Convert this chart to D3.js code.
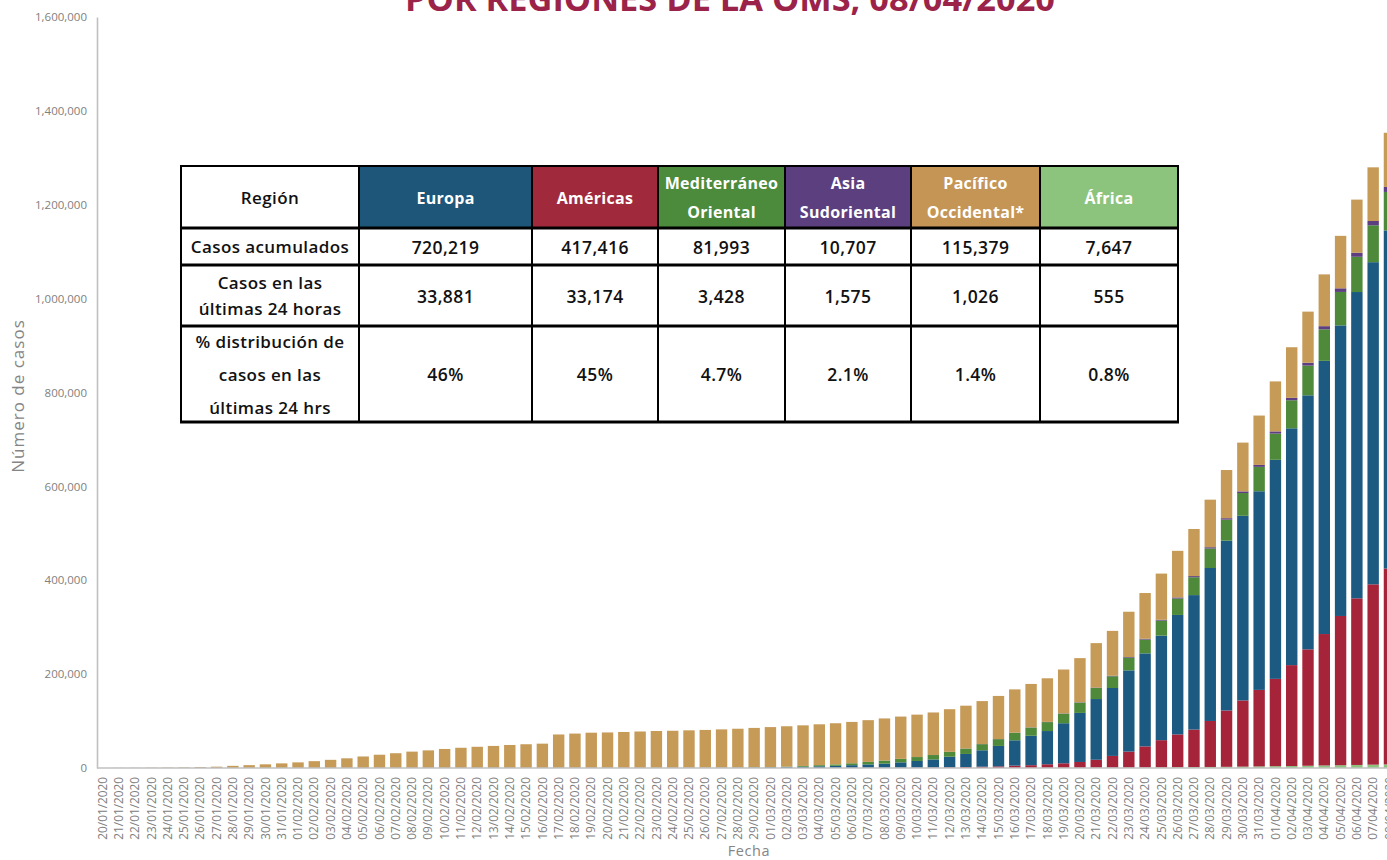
<!DOCTYPE html>
<html><head><meta charset="utf-8">
<script src="https://cdn.jsdelivr.net/npm/d3@7"></script>
<style>body{margin:0;background:#fff;} svg{display:block;}</style>
</head><body>
<svg id="chart" width="1387" height="860"></svg>
<script>
// ---------- DATA ----------
const fechas = [
 "20/01/2020","21/01/2020","22/01/2020","23/01/2020","24/01/2020","25/01/2020","26/01/2020","27/01/2020","28/01/2020","29/01/2020",
 "30/01/2020","31/01/2020","01/02/2020","02/02/2020","03/02/2020","04/02/2020","05/02/2020","06/02/2020","07/02/2020","08/02/2020",
 "09/02/2020","10/02/2020","11/02/2020","12/02/2020","13/02/2020","14/02/2020","15/02/2020","16/02/2020","17/02/2020","18/02/2020",
 "19/02/2020","20/02/2020","21/02/2020","22/02/2020","23/02/2020","24/02/2020","25/02/2020","26/02/2020","27/02/2020","28/02/2020",
 "29/02/2020","01/03/2020","02/03/2020","03/03/2020","04/03/2020","05/03/2020","06/03/2020","07/03/2020","08/03/2020","09/03/2020",
 "10/03/2020","11/03/2020","12/03/2020","13/03/2020","14/03/2020","15/03/2020","16/03/2020","17/03/2020","18/03/2020","19/03/2020",
 "20/03/2020","21/03/2020","22/03/2020","23/03/2020","24/03/2020","25/03/2020","26/03/2020","27/03/2020","28/03/2020","29/03/2020",
 "30/03/2020","31/03/2020","01/04/2020","02/04/2020","03/04/2020","04/04/2020","05/04/2020","06/04/2020","07/04/2020","08/04/2020"
];
const africa = [
 0,0,0,0,0,0,0,0,0,0,
 0,0,0,0,0,0,0,0,0,0,
 0,0,0,0,0,0,0,0,0,0,
 0,0,0,0,0,0,0,1,1,2,
 2,2,2,3,5,8,12,20,25,30,
 35,45,60,75,90,110,150,200,260,340,
 460,600,760,900,1100,1300,1600,1900,2200,2500,
 2900,3400,3900,4200,4800,5400,5900,6500,7092,7647
];
const americas = [
 0,0,0,1,1,2,3,5,6,6,
 8,9,10,11,15,15,16,16,17,19,
 19,19,20,20,22,22,22,22,22,23,
 23,23,23,24,51,51,53,57,60,65,
 70,80,95,110,140,180,250,350,450,600,
 750,1000,1400,2000,2700,3400,4900,5800,7700,9700,
 12400,17000,25000,34000,45000,58000,70000,80000,98000,120000,
 141000,163000,186000,215000,248000,280000,318000,355000,384242,417416
];
const europa = [
 0,0,0,0,0,3,3,3,4,5,
 10,10,22,23,28,28,28,30,30,31,
 38,40,41,45,45,46,46,46,46,47,
 47,47,47,50,79,124,263,381,487,704,
 951,1273,1896,2557,3485,4461,5745,7262,8811,11438,
 14187,17224,22520,27863,34974,43507,53991,62691,70787,85339,
 104513,129323,144682,173130,198107,222679,254484,286464,325878,361735,
 393424,423190,466726,504550,541203,582035,619058,652556,686338,720219
];
const mediterraneo = [
 0,0,0,0,0,0,0,0,0,0,
 0,4,4,5,5,5,5,5,5,7,
 7,7,8,8,8,8,9,9,9,10,
 10,11,18,30,43,80,150,204,280,400,
 550,740,1010,1650,2400,3000,4000,5300,6500,7400,
 8300,9300,10300,11500,13000,14400,16000,17500,19000,20500,
 22000,23500,25000,27000,29500,32000,35000,38000,41500,45000,
 48500,52000,55800,59700,63300,67200,71300,75100,78565,81993
];
const asiaSudoriental = [
 0,2,2,4,5,5,6,8,14,15,
 16,17,21,22,23,27,28,29,30,35,
 35,37,37,37,38,38,38,38,38,38,
 38,38,38,38,38,38,38,38,38,39,
 40,42,45,50,60,75,85,95,100,110,
 130,150,180,220,270,300,370,420,480,560,
 700,850,1100,1400,1650,1900,2300,2500,2800,3000,
 3500,4100,4700,5200,6000,6700,7700,8600,9132,10707
];
const pacifico = [
 0,280,312,576,840,1310,2002,2782,4569,6039,
 7784,9786,11896,14496,17320,20555,24477,28196,31399,34794,
 37459,40451,42997,45061,46884,48939,50465,51742,71314,73214,
 75086,75629,76643,77652,78600,79038,79735,80428,81428,82442,
 83790,85000,85900,86500,87000,87600,88100,88900,89700,90000,
 90300,90600,90800,91100,91500,91800,92100,92500,92900,93400,
 94000,94800,95600,96500,97400,98300,99300,100300,101300,102600,
 103900,105200,106500,107800,109000,110300,111800,113200,114353,115379
];
const yTicks = [0,200000,400000,600000,800000,1000000,1200000,1400000,1600000];

// table
const regionesTabla = [["Europa"],["Américas"],["Mediterráneo","Oriental"],["Asia","Sudoriental"],["Pacífico","Occidental*"],["África"]];
const casosAcumulados = ["720,219","417,416","81,993","10,707","115,379","7,647"];
const casos24h = ["33,881","33,174","3,428","1,575","1,026","555"];
const distribucion = ["46%","45%","4.7%","2.1%","1.4%","0.8%"];
const etiquetasFilas = [["Región"],["Casos acumulados"],["Casos en las","últimas 24 horas"],["% distribución de","casos en las","últimas 24 hrs"]];

// ---------- STYLE ----------
const keys = ["africa","americas","europa","mediterraneo","asia","pacifico"];
const colores = {africa:"#8cc47e", americas:"#a6243a", europa:"#1c5a82", mediterraneo:"#4e8a3a", asia:"#5d3e80", pacifico:"#c69a57"};
const headerColores = ["#1d5679","#a02a3c","#4c8a3c","#5c3f7f","#c59555","#8cc47e"];
const FONT = "'Open Sans', 'Noto Sans', sans-serif";

const svg = d3.select("#chart");
const rows = fechas.map((f,i)=>({fecha:f, africa:africa[i], americas:americas[i], europa:europa[i],
  mediterraneo:mediterraneo[i], asia:asiaSudoriental[i], pacifico:pacifico[i]}));

const axisX = 97, yBase = 768, yTop = 17;
const step = 16.29, bandStart = 94.4;
const x = d3.scaleBand().domain(fechas).range([bandStart, bandStart + 80*step]).paddingInner(0.3).paddingOuter(0.15);
const y = d3.scaleLinear().domain([0,1600000]).range([yBase, yTop]);

const stack = d3.stack().keys(keys)(rows);

// bars
svg.append("g").selectAll("g").data(stack).join("g")
  .attr("fill", d => colores[d.key])
  .selectAll("rect").data(d => d).join("rect")
  .attr("x", d => x(d.data.fecha))
  .attr("width", x.bandwidth())
  .attr("y", d => y(d[1]))
  .attr("height", d => Math.max(0, y(d[0]) - y(d[1])));

// y axis
const gy = svg.append("g").attr("transform", `translate(${axisX},0)`)
  .call(d3.axisLeft(y).tickValues(yTicks).tickFormat(d3.format(",")).tickSize(0).tickPadding(10));
gy.select(".domain").attr("stroke","#c0c0c0").attr("stroke-width",1.6);
gy.selectAll("text").attr("fill","#808080").style("font-family",FONT).style("font-size","11.5px");

// x axis
const gx = svg.append("g").attr("transform", `translate(0,${yBase})`)
  .call(d3.axisBottom(x).tickSize(0).tickSizeOuter(0));
gx.select(".domain").attr("stroke","#c0c0c0").attr("stroke-width",1.6)
  .attr("d", `M${axisX},0H${1387}`);
gx.selectAll("text")
  .attr("transform","rotate(-90)")
  .attr("x",-9).attr("y",0).attr("dy","0.35em")
  .style("text-anchor","end")
  .attr("fill","#808080").style("font-family",FONT).style("font-size","11.8px");

// axis titles
svg.append("text").attr("transform","translate(24,396) rotate(-90)")
  .attr("text-anchor","middle").attr("fill","#858585")
  .style("font-family",FONT).style("font-size","17px").attr("letter-spacing","1px")
  .text("Número de casos");
svg.append("text").attr("x",749).attr("y",856)
  .attr("text-anchor","middle").attr("fill","#858585")
  .style("font-family",FONT).style("font-size","14.5px").attr("letter-spacing","0.6px")
  .text("Fecha");

// title (cut at top, as in the source)
svg.append("text").attr("x",730).attr("y",11)
  .attr("text-anchor","middle").attr("fill","#9b2349")
  .style("font-family",FONT).style("font-weight","700").style("font-size","34px")
  .attr("textLength",650).attr("lengthAdjust","spacingAndGlyphs")
  .text("POR REGIONES DE LA OMS, 08/04/2020");

// ---------- TABLE ----------
const colEdges = [181,359,532,658,785,911,1040,1178];
const rowEdges = [166,228,265,326,422];
const tbl = svg.append("g");
tbl.selectAll("rect.h").data(regionesTabla).join("rect")
  .attr("x",(d,i)=>colEdges[i+1]).attr("y",rowEdges[0])
  .attr("width",(d,i)=>colEdges[i+2]-colEdges[i+1]).attr("height",rowEdges[1]-rowEdges[0])
  .attr("fill",(d,i)=>headerColores[i]);
tbl.append("rect").attr("x",colEdges[0]).attr("y",rowEdges[0])
  .attr("width",colEdges[1]-colEdges[0]).attr("height",rowEdges[1]-rowEdges[0]).attr("fill","#fff");
tbl.append("rect").attr("x",colEdges[0]).attr("y",rowEdges[1])
  .attr("width",colEdges[7]-colEdges[0]).attr("height",rowEdges[4]-rowEdges[1]).attr("fill","#fff");

function cellText(lines, cx, cy, lh, color, size, weight, ls){
  const n = lines.length;
  lines.forEach((t,k)=>{
    tbl.append("text").attr("x",cx).attr("y",cy + (k-(n-1)/2)*lh)
      .attr("text-anchor","middle").attr("dominant-baseline","central")
      .attr("fill",color).style("font-family",FONT).style("font-weight",weight).style("font-size",size+"px")
      .attr("letter-spacing", ls || 0)
      .text(t);
  });
}
regionesTabla.forEach((lines,i)=>{
  const cx=(colEdges[i+1]+colEdges[i+2])/2, cy=(rowEdges[0]+rowEdges[1])/2 + (lines.length===1?1:0);
  cellText(lines,cx,cy,29,"#ffffff",16,"700","0.3px");
});
const rowLH = [0,0,26,33];
etiquetasFilas.forEach((lines,r)=>{
  const cx=(colEdges[0]+colEdges[1])/2, cy=(rowEdges[r]+rowEdges[r+1])/2;
  cellText(lines,cx,cy,rowLH[r],"#111",17,"600","0.4px");
});
[casosAcumulados,casos24h,distribucion].forEach((vals,r)=>{
  vals.forEach((v,i)=>{
    const cx=(colEdges[i+1]+colEdges[i+2])/2, cy=(rowEdges[r+1]+rowEdges[r+2])/2;
    cellText([v],cx,cy,0,"#111",17.5,"600","0.4px");
  });
});
colEdges.forEach(cx=>{
  tbl.append("line").attr("x1",cx).attr("x2",cx).attr("y1",rowEdges[0]).attr("y2",rowEdges[4])
    .attr("stroke","#000").attr("stroke-width",2);
});
rowEdges.forEach((ry,k)=>{
  tbl.append("line").attr("x1",colEdges[0]-1).attr("x2",colEdges[7]+1).attr("y1",ry).attr("y2",ry)
    .attr("stroke","#000").attr("stroke-width",(k===0)?2:3);
});
</script>
</body></html>
